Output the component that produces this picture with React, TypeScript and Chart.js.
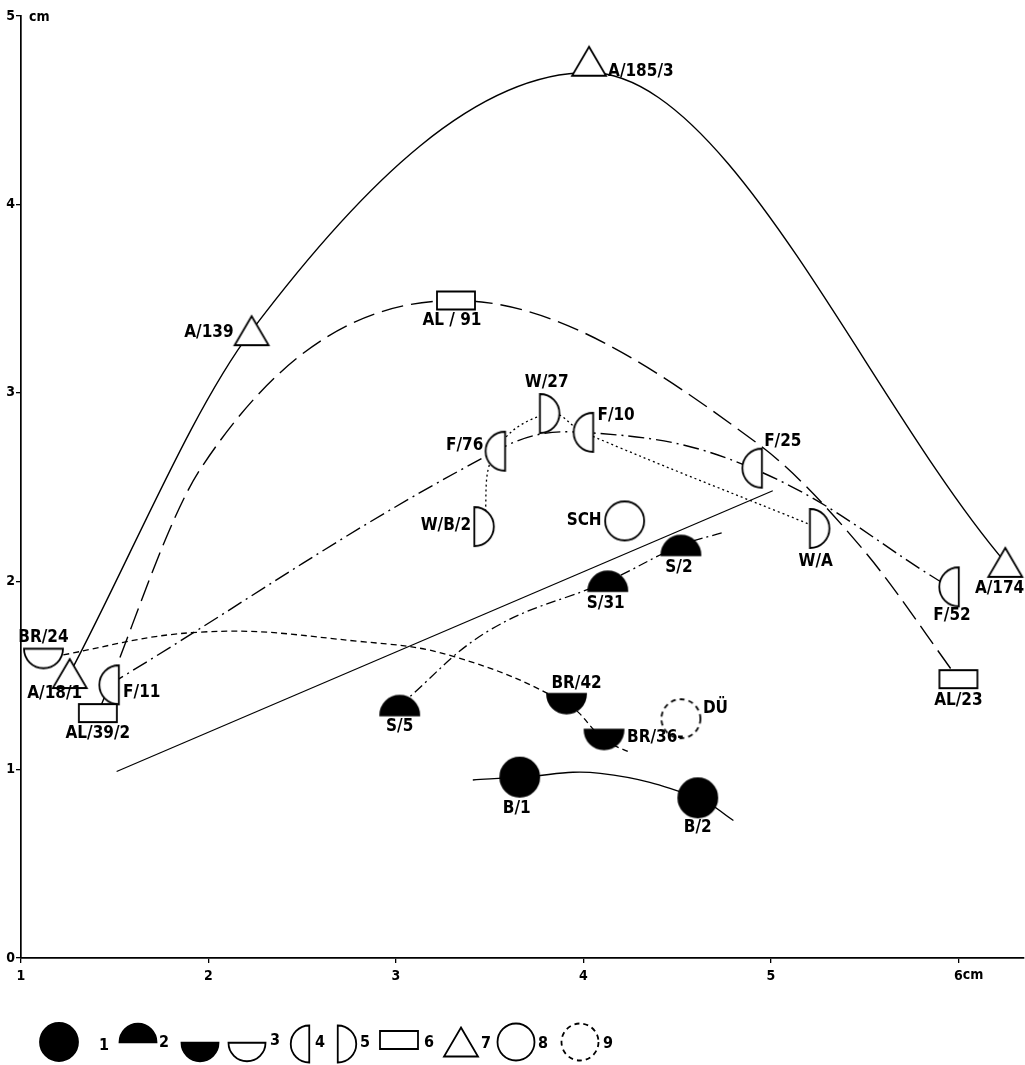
import { useEffect, useRef } from 'react';
import { Chart, registerables } from 'chart.js';

Chart.register(...registerables);

// ---------- data (x, y in cm) ----------
const aSites = ['A/18/1', 'A/139', 'A/185/3', 'A/174'];
const aX = [1.26, 2.23, 4.03, 6.25];
const aY = [1.51, 3.33, 4.76, 2.1];

const alSites = ['AL/39/2', 'AL / 91', 'AL/23'];
const alX = [1.41, 3.32, 6.0];
const alY = [1.3, 3.49, 1.48];

const fSites = ['F/11', 'F/76', 'F/10', 'F/25', 'F/52'];
const fX = [1.47, 3.53, 4.0, 4.9, 5.95];
const fY = [1.45, 2.69, 2.79, 2.6, 1.97];

const wSites = ['W/B/2', 'W/27', 'W/A'];
const wX = [3.47, 3.82, 5.26];
const wY = [2.29, 2.89, 2.28];

const brOpenSites = ['BR/24'];
const brOpenX = [1.12];
const brOpenY = [1.59];

const brSites = ['BR/42', 'BR/36-'];
const brX = [3.91, 4.11];
const brY = [1.35, 1.16];

const sSites = ['S/5', 'S/31', 'S/2'];
const sX = [3.02, 4.13, 4.52];
const sY = [1.34, 2.0, 2.19];

const bSites = ['B/1', 'B/2'];
const bX = [3.66, 4.61];
const bY = [0.96, 0.85];

const schSites = ['SCH'];
const schX = [4.22];
const schY = [2.32];

const duSites = ['DÜ'];
const duX = [4.52];
const duY = [1.27];

// points
const aApexX = [4.03];
const aApexY = [4.7];
const alTraceX = [1.96, 4.93, 5.49];
const alTraceY = [2.6, 2.73, 2.17];
const brTraceX = [1.96, 2.81, 3.31, 4.25];
const brTraceY = [1.73, 1.68, 1.6, 1.09];
const sTraceX = [3.5, 4.75];
const sTraceY = [1.74, 2.26];
const bTraceX = [3.41, 4.09, 4.8];
const bTraceY = [0.945, 0.98, 0.73];
const regX = [1.51, 5.01];
const regY = [0.99, 2.48];

const xTicks = [1, 2, 3, 4, 5, 6];
const yTicks = [0, 1, 2, 3, 4, 5];
const legendNumbers = ['1', '2', '3', '4', '5', '6', '7', '8', '9'];

// ---------- presentation ----------
const labelPlacement: Record<string, [number, number, CanvasTextAlign]> = {
  'A/18/1': [-15, 20, 'center'],
  'A/139': [-18, 2, 'right'],
  'A/185/3': [19, 10, 'left'],
  'A/174': [19, 26, 'right'],
  'AL/39/2': [0, 20, 'center'],
  'AL / 91': [-4, 20, 'center'],
  'AL/23': [0, 21, 'center'],
  'F/11': [14, 8, 'left'],
  'F/76': [-12, -6, 'right'],
  'F/10': [14, -17, 'left'],
  'F/25': [12, -27, 'left'],
  'F/52': [3, 29, 'center'],
  'W/B/2': [-13, -1, 'right'],
  'W/27': [-3, -31, 'center'],
  'W/A': [-4, 33, 'center'],
  'BR/24': [0, -21, 'center'],
  'BR/42': [10, -20, 'center'],
  'BR/36-': [23, -2, 'left'],
  'DÜ': [22, -10, 'left'],
  'SCH': [-23, 0, 'right'],
  'S/5': [0, 21, 'center'],
  'S/31': [-2, 22, 'center'],
  'S/2': [-2, 22, 'center'],
  'B/1': [-3, 31, 'center'],
  'B/2': [0, 30, 'center'],
};

const FONT = '"DejaVu Sans Condensed", "DejaVu Sans", sans-serif';
const R = 19.5;

type Sym = 'disc' | 'upper' | 'lowerFilled' | 'lowerOpen' | 'left' | 'right' | 'rect' | 'tri' | 'ring' | 'dashRing';

function drawSymbol(ctx: CanvasRenderingContext2D, type: Sym, cx: number, cy: number, r = R) {
  ctx.save();
  ctx.lineWidth = 1.8;
  ctx.strokeStyle = '#000';
  ctx.fillStyle = '#fff';
  ctx.setLineDash([]);
  ctx.beginPath();
  let filled = false;
  switch (type) {
    case 'disc':
      ctx.arc(cx, cy, r, 0, Math.PI * 2);
      filled = true;
      break;
    case 'upper':
      ctx.arc(cx, cy + r / 2, r, Math.PI, Math.PI * 2);
      ctx.closePath();
      filled = true;
      break;
    case 'lowerFilled':
      ctx.arc(cx, cy - r / 2, r, 0, Math.PI);
      ctx.closePath();
      filled = true;
      break;
    case 'lowerOpen':
      ctx.arc(cx, cy - r / 2, r, 0, Math.PI);
      ctx.closePath();
      break;
    case 'left':
      ctx.arc(cx + r / 2, cy, r, Math.PI / 2, (Math.PI * 3) / 2);
      ctx.closePath();
      break;
    case 'right':
      ctx.arc(cx - r / 2, cy, r, -Math.PI / 2, Math.PI / 2);
      ctx.closePath();
      break;
    case 'rect':
      ctx.rect(cx - 19, cy - 9, 38, 18);
      break;
    case 'tri':
      ctx.moveTo(cx, cy - 14.5);
      ctx.lineTo(cx + 17, cy + 14.5);
      ctx.lineTo(cx - 17, cy + 14.5);
      ctx.closePath();
      break;
    case 'ring':
    case 'dashRing':
      ctx.arc(cx, cy, r, 0, Math.PI * 2);
      break;
  }
  if (filled) {
    ctx.fillStyle = '#000';
    ctx.fill();
    ctx.stroke();
  } else {
    ctx.fill();
    if (type === 'dashRing') ctx.setLineDash([5, 4]);
    ctx.stroke();
  }
  ctx.restore();
}

function symbolImage(type: Sym): HTMLCanvasElement {
  const m = 3;
  let w = 2 * R;
  let h = 2 * R;
  if (type === 'upper' || type === 'lowerFilled' || type === 'lowerOpen') h = R;
  if (type === 'left' || type === 'right') w = R;
  if (type === 'rect') { w = 38; h = 18; }
  if (type === 'tri') { w = 34; h = 29; }
  const c = document.createElement('canvas');
  c.width = Math.ceil(w + 2 * m);
  c.height = Math.ceil(h + 2 * m);
  const ctx = c.getContext('2d')!;
  drawSymbol(ctx, type, c.width / 2, c.height / 2);
  return c;
}

const pts = (xs: number[], ys: number[]) => xs.map((x, i) => ({ x, y: ys[i] }));
const P = (x: number, y: number) => ({ x, y });

export default function App() {
  const ref = useRef<HTMLCanvasElement | null>(null);

  useEffect(() => {
    if (!ref.current) return;

    const markerSet = (label: string, sites: string[], xs: number[], ys: number[], sym: Sym) => ({
      label,
      sites,
      data: pts(xs, ys),
      pointStyle: symbolImage(sym),
      pointRadius: 10,
      showLine: false,
      order: 0,
      clip: false as const,
    });

    const curve = (label: string, data: { x: number; y: number }[], dash: number[], width = 1.3, tension = 0.4, mode = 'default') => ({
      label,
      data,
      showLine: true,
      pointRadius: 0,
      borderColor: '#000',
      borderWidth: width,
      borderDash: dash,
      tension,
      cubicInterpolationMode: mode,
      fill: false,
      order: 1,
      clip: false as const,
    });

    const aCurve = [P(aX[0], aY[0]), P(aX[1], aY[1]), P(aApexX[0], aApexY[0]), P(aX[3], aY[3])];
    const alCurve = [
      P(alX[0], alY[0]), P(alTraceX[0], alTraceY[0]), P(alX[1], alY[1]),
      P(alTraceX[1], alTraceY[1]), P(alTraceX[2], alTraceY[2]), P(alX[2], alY[2]),
    ];
    const fCurve = pts(fX, fY);
    const wCurve = [P(wX[0], wY[0]), P(fX[1], fY[1]), P(wX[1], wY[1]), P(fX[2], fY[2]), P(wX[2], wY[2])];
    const brCurve = [
      P(brOpenX[0], brOpenY[0]), P(brTraceX[0], brTraceY[0]), P(brTraceX[1], brTraceY[1]),
      P(brTraceX[2], brTraceY[2]), P(brX[0], brY[0]), P(brX[1], brY[1]), P(brTraceX[3], brTraceY[3]),
    ];
    const sCurve = [P(sX[0], sY[0]), P(sTraceX[0], sTraceY[0]), P(sX[1], sY[1]), P(sX[2], sY[2]), P(sTraceX[1], sTraceY[1])];
    const bCurve = [P(bTraceX[0], bTraceY[0]), P(bX[0], bY[0]), P(bTraceX[1], bTraceY[1]), P(bX[1], bY[1]), P(bTraceX[2], bTraceY[2])];

    const datasets: any[] = [
      markerSet('A', aSites, aX, aY, 'tri'),
      markerSet('AL', alSites, alX, alY, 'rect'),
      markerSet('F', fSites, fX, fY, 'left'),
      markerSet('W', wSites, wX, wY, 'right'),
      markerSet('BR open', brOpenSites, brOpenX, brOpenY, 'lowerOpen'),
      markerSet('BR', brSites, brX, brY, 'lowerFilled'),
      markerSet('S', sSites, sX, sY, 'upper'),
      markerSet('B', bSites, bX, bY, 'disc'),
      markerSet('SCH', schSites, schX, schY, 'ring'),
      markerSet('DÜ', duSites, duX, duY, 'dashRing'),
      curve('A curve', aCurve, [], 1.4, 0.4, 'monotone'),
      curve('AL curve', alCurve, [22, 8], 1.4, 0.4, 'monotone'),
      curve('F curve', fCurve, [16, 5, 2, 5], 1.4),
      curve('W curve', wCurve, [2, 3], 1.3),
      curve('BR curve', brCurve, [6, 4], 1.3),
      curve('S curve', sCurve, [10, 4, 2, 4], 1.3),
      curve('B curve', bCurve, [], 1.4),
      curve('regression', pts(regX, regY), [], 1.2, 0),
    ];

    const annotate = {
      id: 'annotate',
      afterDatasetsDraw(chart: any) {
        const ctx: CanvasRenderingContext2D = chart.ctx;
        ctx.save();
        ctx.fillStyle = '#000';
        ctx.font = `bold 17px ${FONT}`;
        ctx.textBaseline = 'middle';
        chart.data.datasets.forEach((ds: any, di: number) => {
          if (!ds.sites) return;
          const meta = chart.getDatasetMeta(di);
          ds.sites.forEach((name: string, i: number) => {
            const el = meta.data[i];
            const pl = labelPlacement[name] || [0, 20, 'center'];
            ctx.textAlign = pl[2];
            ctx.fillText(name, el.x + pl[0], el.y + pl[1]);
          });
        });
        ctx.restore();
      },
      afterDraw(chart: any) {
        const ctx: CanvasRenderingContext2D = chart.ctx;
        const xs = chart.scales.x;
        const ys = chart.scales.y;
        ctx.save();
        ctx.fillStyle = '#000';
        ctx.font = `bold 14px ${FONT}`;
        ctx.textBaseline = 'middle';
        ctx.textAlign = 'left';
        ctx.fillText('cm', xs.getPixelForValue(1) + 8, ys.getPixelForValue(5) + 1);
        ctx.textBaseline = 'top';
        const sixW = ctx.measureText('6').width;
        ctx.fillText('cm', xs.getPixelForValue(6) + sixW / 2, xs.top + 5 + 5);

        // legend
        const ly = 1042;
        const syms: [Sym, number, number][] = [
          ['disc', 59, ly],
          ['upper', 138, ly - 9],
          ['lowerFilled', 200, ly + 10],
          ['lowerOpen', 247, ly + 10],
          ['left', 300, ly + 2],
          ['right', 347, ly + 2],
          ['rect', 399, ly - 2],
          ['tri', 461, ly],
          ['ring', 516, ly],
          ['dashRing', 580, ly],
        ];
        syms.forEach(([t, x, y]) => drawSymbol(ctx, t, x, y, t === 'disc' ? 19 : 18.5));
        ctx.font = `bold 16px ${FONT}`;
        ctx.textBaseline = 'middle';
        const numPos: [number, number][] = [
          [99, ly + 4], [159, ly + 1], [270, ly - 1], [315, ly + 1], [360, ly + 1],
          [424, ly + 1], [481, ly + 2], [538, ly + 2], [603, ly + 2],
        ];
        legendNumbers.forEach((n, i) => ctx.fillText(n, numPos[i][0], numPos[i][1]));
        ctx.restore();
      },
    };

    const axisCommon = {
      type: 'linear' as const,
      grid: { display: true, drawOnChartArea: false, drawTicks: true, tickLength: 5, color: '#000', lineWidth: 1.3 },
      border: { display: true, color: '#000', width: 1.7 },
    };

    const chart = new Chart(ref.current, {
      type: 'scatter',
      data: { datasets },
      options: {
        animation: false,
        responsive: false,
        maintainAspectRatio: false,
        devicePixelRatio: 1,
        events: [],
        layout: { autoPadding: false, padding: { top: 16, right: 1, left: 0, bottom: 0 } },
        plugins: { legend: { display: false }, tooltip: { enabled: false } },
        scales: {
          x: {
            ...axisCommon,
            min: 1,
            max: 6.35,
            afterBuildTicks: (s: any) => { s.ticks = xTicks.map((v) => ({ value: v })); },
            afterFit: (s: any) => { s.height = 107; s.paddingLeft = 0; s.paddingRight = 0; },
            ticks: {
              color: '#000',
              padding: 5,
              maxRotation: 0,
              font: { family: FONT, size: 14, weight: 'bold' },
              callback: (v: any) => String(v),
            },
          },
          y: {
            ...axisCommon,
            min: 0,
            max: 5,
            afterBuildTicks: (s: any) => { s.ticks = yTicks.map((v) => ({ value: v })); },
            afterFit: (s: any) => { s.width = 21; s.paddingTop = 0; s.paddingBottom = 0; },
            ticks: {
              color: '#000',
              padding: 1,
              font: { family: FONT, size: 14, weight: 'bold' },
              callback: (v: any) => String(v),
            },
          },
        },
      } as any,
      plugins: [annotate],
    });

    return () => chart.destroy();
  }, []);

  return (
    <div style={{ position: 'absolute', left: 0, top: 0, width: 1025, height: 1065, background: '#fff' }}>
      <canvas ref={ref} width={1025} height={1065} style={{ display: 'block', width: 1025, height: 1065 }} />
    </div>
  );
}
